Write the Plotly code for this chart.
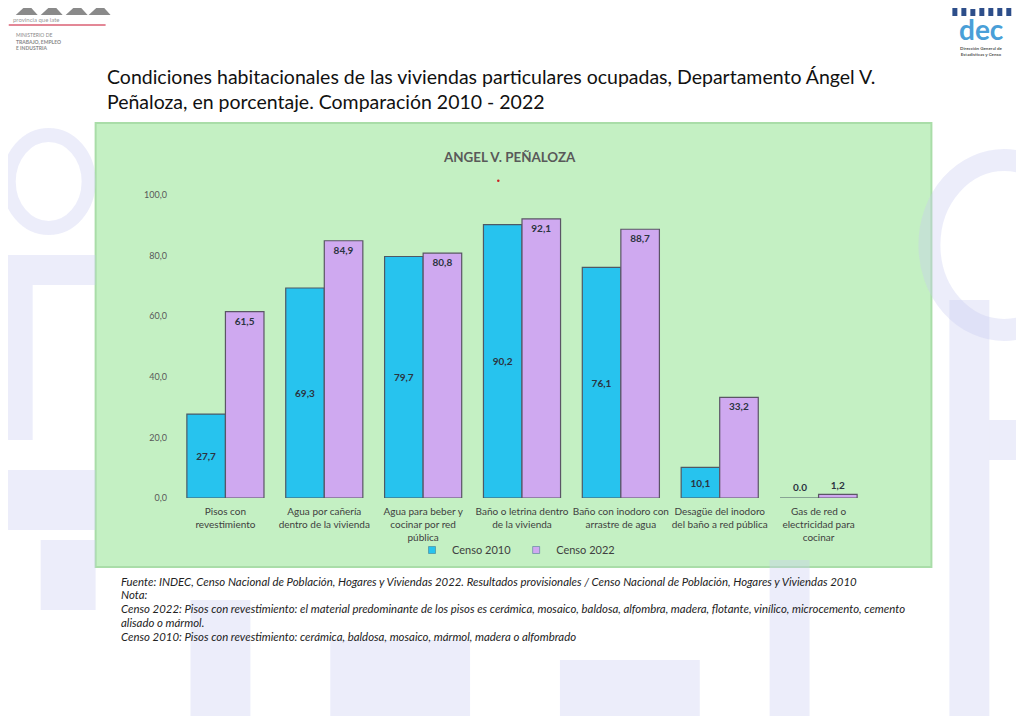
import plotly.graph_objects as go

# Categories and census values (percent)
categories = [
    "Pisos con<br>revestimiento",
    "Agua por cañería<br>dentro de la vivienda",
    "Agua para beber y<br>cocinar por red<br>pública",
    "Baño o letrina dentro<br>de la vivienda",
    "Baño con inodoro con<br>arrastre de agua",
    "Desagüe del inodoro<br>del baño a red pública",
    "Gas de red o<br>electricidad para<br>cocinar",
]
censo_2010 = [27.7, 69.3, 79.7, 90.2, 76.1, 10.1, 0.0]
censo_2022 = [61.5, 84.9, 80.8, 92.1, 88.7, 33.2, 1.2]
y_ticks = [0, 20, 40, 60, 80, 100]

notes = [
    "Fuente: INDEC, Censo Nacional de Población, Hogares y Viviendas 2022. Resultados provisionales / Censo Nacional de Población, Hogares y Viviendas 2010",
    "Nota:",
    "Censo 2022: Pisos con revestimiento: el material predominante de los pisos es cerámica, mosaico, baldosa, alfombra, madera, flotante, vinílico, microcemento, cemento",
    "alisado o mármol.",
    "Censo 2010: Pisos con revestimiento: cerámica, baldosa, mosaico, mármol, madera o alfombrado",
]

# page body adds an 8px margin, so the figure is drawn 8px smaller
OFF = 8
W, H = 1024 - OFF, 716 - OFF
L, T = 175.5 - OFF, 195 - OFF
PW, PH = 693, 303
R, B = W - L - PW, H - T - PH


# reference page pixel -> paper coords
def px(x):
    return (x - OFF - L) / PW


def py(y):
    return (H - B - (y - OFF)) / PH


FONT = "Lato"
BLUE = "#27C3EE"
PURPLE = "#CFA9F0"
WM = "rgba(200,203,240,0.35)"

fig = go.Figure()

fig.add_trace(go.Bar(
    x=categories, y=censo_2010, name="Censo 2010", showlegend=False,
    marker=dict(color=BLUE, line=dict(color="#4d5966", width=1.2)),
    texttemplate="<b>%{y:.1f}</b>", textposition="auto", insidetextanchor="middle",
    textfont=dict(family=FONT, size=10, color="#2b3440"),
    constraintext="none", cliponaxis=False,
))
fig.add_trace(go.Bar(
    x=categories, y=censo_2022, name="Censo 2022", showlegend=False,
    marker=dict(color=PURPLE, line=dict(color="#5a5565", width=1.2)),
    texttemplate="<b>%{y:.1f}</b>", textposition="auto", insidetextanchor="end",
    textfont=dict(family=FONT, size=10, color="#2b3440"),
    constraintext="none", cliponaxis=False,
))
# legend entries with small square swatches
for name, col in [("Censo 2010", BLUE), ("Censo 2022", PURPLE)]:
    fig.add_trace(go.Scatter(
        x=[None], y=[None], mode="markers", name=name,
        marker=dict(symbol="square", size=7, color=col, line=dict(color="#3a6f8a", width=0.5)),
    ))

shapes = [
    # green chart box
    dict(type="rect", xref="paper", yref="paper",
         x0=px(95), x1=px(932), y0=py(567), y1=py(123),
         fillcolor="#C4F0C3", line=dict(color="#A9DDA8", width=2), layer="below"),
]
# faint watermark shapes
wm_rects = [
    (0, 95, 255, 285), (0, 32, 285, 440), (0, 95, 470, 530), (40, 95, 540, 610),
    (950, 990, 300, 716), (990, 1024, 420, 460), (330, 470, 640, 716),
    (560, 700, 660, 716), (770, 810, 560, 716), (190, 250, 600, 716),
]
for x0, x1, y0, y1 in wm_rects:
    shapes.append(dict(type="rect", xref="paper", yref="paper",
                       x0=px(x0), x1=px(x1), y0=py(y1), y1=py(y0),
                       fillcolor=WM, line=dict(width=0), layer="below"))
shapes += [
    dict(type="circle", xref="paper", yref="paper",
         x0=px(8), x1=px(88), y0=py(228), y1=py(135),
         fillcolor="rgba(0,0,0,0)", line=dict(color=WM, width=14), layer="below"),
    dict(type="circle", xref="paper", yref="paper",
         x0=px(930), x1=px(1080), y0=py(330), y1=py(160),
         fillcolor="rgba(0,0,0,0)", line=dict(color=WM, width=22), layer="below"),
    # stray red dot under the chart title
    dict(type="circle", xref="paper", yref="paper",
         x0=px(497), x1=px(499.5), y0=py(182), y1=py(179.5),
         fillcolor="#cc2222", line=dict(width=0)),
    # logo red bar and rule
    dict(type="rect", xref="paper", yref="paper",
         x0=px(0), x1=px(4), y0=py(52), y1=py(8),
         fillcolor="#C8102E", line=dict(width=0)),
    dict(type="line", xref="paper", yref="paper",
         x0=px(8), x1=px(105), y0=py(25), y1=py(25),
         line=dict(color="#C8102E", width=1)),
]
# logo triangles
for x0 in [15, 40, 65, 88]:
    shapes.append(dict(type="path", xref="paper", yref="paper",
                       path=f"M {px(x0)},{py(15)} L {px(x0 + 12)},{py(4)} L {px(x0 + 22)},{py(15)} Z",
                       fillcolor="#8a8a8a", line=dict(width=0)))
# small building bars above the dec logo
for i, hgt in enumerate([8, 10, 7, 11, 9, 10, 8]):
    bx = 953 + i * 9
    shapes.append(dict(type="rect", xref="paper", yref="paper",
                       x0=px(bx), x1=px(bx + 5), y0=py(16), y1=py(16 - hgt),
                       fillcolor="#2d4e8a", line=dict(width=0)))

annotations = [
    dict(text="Condiciones habitacionales de las viviendas particulares ocupadas, Departamento Ángel V.<br>"
              "Peñaloza, en porcentaje. Comparación 2010 - 2022",
         xref="paper", yref="paper", x=px(104), y=py(63), xanchor="left", yanchor="top",
         align="left", showarrow=False,
         font=dict(family=FONT, size=19.5, color="#111111")),
    dict(text="<b>ANGEL V. PEÑALOZA</b>",
         xref="paper", yref="paper", x=px(509), y=py(157), xanchor="center", yanchor="middle",
         showarrow=False, font=dict(family=FONT, size=13.4, color="#595959")),
    dict(text="provincia que late",
         xref="paper", yref="paper", x=px(10), y=py(19), xanchor="left", yanchor="middle",
         showarrow=False, font=dict(family=FONT, size=6, color="#999999")),
    dict(text="MINISTERIO DE<br><b>TRABAJO, EMPLEO<br>E INDUSTRIA</b>",
         xref="paper", yref="paper", x=px(13), y=py(30), xanchor="left", yanchor="top",
         align="left", showarrow=False, font=dict(family=FONT, size=5, color="#888888")),
    dict(text="<b>dec</b>",
         xref="paper", yref="paper", x=px(982), y=py(29), xanchor="center", yanchor="middle",
         showarrow=False, font=dict(family=FONT, size=28, color="#4a9fd8")),
    dict(text="<b>Dirección General de<br>Estadísticas y Censo</b>",
         xref="paper", yref="paper", x=px(982), y=py(44), xanchor="center", yanchor="top",
         showarrow=False, font=dict(family=FONT, size=4.5, color="#555555")),
]
# footnote lines
for i, line in enumerate(notes):
    annotations.append(dict(
        text="<i>" + line + "</i>", xref="paper", yref="paper",
        x=px(118), y=py(581 + i * 13.8), xanchor="left", yanchor="middle",
        showarrow=False, font=dict(family=FONT, size=11.4, color="#222222")))
# zero-height bars get their label as an annotation
for cat, v in zip(categories, censo_2010):
    if v == 0:
        annotations.append(dict(
            text="<b>%.1f</b>" % v, x=cat, y=v, xref="x", yref="y",
            xshift=-19, yshift=11, showarrow=False,
            font=dict(family=FONT, size=10, color="#2b3440")))

fig.update_layout(
    width=W, height=H,
    margin=dict(l=L, r=R, t=T, b=B),
    paper_bgcolor="white", plot_bgcolor="rgba(0,0,0,0)",
    separators=",.",
    barmode="group", bargap=0.22, bargroupgap=0.0,
    font=dict(family=FONT, size=10, color="#595959"),
    showlegend=True,
    legend=dict(orientation="h", x=px(516), y=py(550), xanchor="center", yanchor="middle",
                font=dict(family=FONT, size=11, color="#404040"),
                bgcolor="rgba(0,0,0,0)", itemwidth=30, tracegroupgap=0),
    xaxis=dict(showgrid=False, showline=False, ticks="", ticklabelstandoff=6,
               tickfont=dict(family=FONT, size=10, color="#404040")),
    yaxis=dict(range=[0, 100], tickvals=y_ticks, tickformat=".1f",
               showgrid=False, zeroline=False, showline=False, ticks="",
               ticklabelstandoff=8,
               tickfont=dict(family=FONT, size=9, color="#595959")),
    shapes=shapes,
    annotations=annotations,
)

fig.write_html("out.html")
